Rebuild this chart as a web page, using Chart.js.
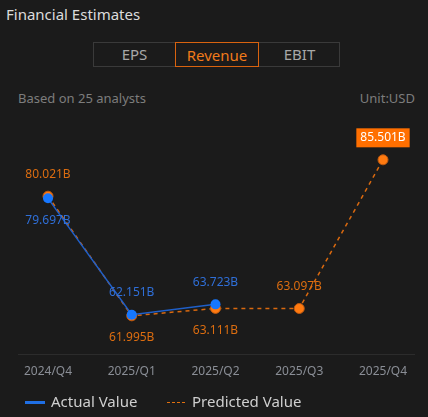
<!DOCTYPE html>
<html>
<head>
<meta charset="utf-8">
<script src="https://cdn.jsdelivr.net/npm/chart.js@4"></script>
<style>
  html, body { margin:0; padding:0; background:#1b1b1b; }
  body { width:428px; height:417px; position:relative; overflow:hidden; font-family:"Noto Sans", sans-serif; }
  .title { position:absolute; left:6px; top:4px; font-size:15px; color:#dcdcdc; }
  .tabs { position:absolute; left:93px; top:42px; width:247px; height:25px; border:1px solid #3a3a3a; box-sizing:border-box; }
  .tab { position:absolute; top:-1px; height:25px; line-height:24px; text-align:center; font-size:15px; color:#a8a8a8; box-sizing:border-box; }
  .tab.on { border:1px solid #d9630f; color:#f07a1a; }
  .sub { position:absolute; top:89px; font-size:13px; color:#7d7d7d; }
  .axisline { position:absolute; left:18px; width:397px; top:354px; height:1px; background:#2c2c2c; }
  .legend { position:absolute; top:391px; left:0; font-size:15px; color:#cfcfcf; }
  .legend span { position:absolute; white-space:nowrap; }
  #wrap { position:absolute; left:0; top:110px; width:428px; height:290px; }
</style>
</head>
<body>
<div class="title">Financial Estimates</div>
<div class="tabs">
  <div class="tab" style="left:-1px;width:83px">EPS</div>
  <div class="tab on" style="left:81px;width:84px">Revenue</div>
  <div class="tab" style="left:164px;width:83px">EBIT</div>
</div>
<div class="sub" style="left:18px">Based on 25 analysts</div>
<div class="sub" style="right:13px">Unit:USD</div>
<div class="axisline"></div>
<div id="wrap"><canvas id="chart"></canvas></div>
<div class="legend">
  <span style="left:25px;top:10px;width:20px;height:3px;background:#1f6fe5"></span>
  <span style="left:51px;top:0">Actual Value</span>
  <span style="left:167px;top:11px;width:18px;height:0;border-top:1px dashed #e0700f"></span>
  <span style="left:192px;top:0">Predicted Value</span>
</div>
<script>
var quarters = ["2024/Q4", "2025/Q1", "2025/Q2", "2025/Q3", "2025/Q4"];
var actual = [79.697, 62.151, 63.723, null, null];
var predicted = [80.021, 61.995, 63.111, 63.097, 85.501];
// where each value label sits relative to its point
var actualPlace = ["below", "above", "above", null, null];
var predictedPlace = ["above", "below", "below", "above", "box"];

var valueLabels = {
  id: "valueLabels",
  afterDatasetsDraw: function(chart) {
    var ctx = chart.ctx;
    ctx.save();
    ctx.font = "12px 'Noto Sans'";
    ctx.textAlign = "center";
    ctx.textBaseline = "middle";
    chart.data.datasets.forEach(function(ds, di) {
      var meta = chart.getDatasetMeta(di);
      var place = di === 0 ? actualPlace : predictedPlace;
      meta.data.forEach(function(pt, i) {
        var v = ds.data[i];
        if (v == null || !place[i]) return;
        var txt = v.toFixed(3) + "B";
        var y = place[i] === "below" ? pt.y + 22 : pt.y - 22;
        if (place[i] === "box") {
          var w = ctx.measureText(txt).width + 8;
          ctx.fillStyle = "#ff6f00";
          ctx.fillRect(pt.x - w / 2, y - 9.5, w, 19);
          ctx.fillStyle = "#ffffff";
        } else {
          ctx.fillStyle = di === 0 ? "#2f6fd8" : "#dc6d10";
        }
        ctx.fillText(txt, pt.x, y);
      });
    });
    ctx.restore();
  }
};

new Chart(document.getElementById("chart"), {
  type: "line",
  data: {
    labels: quarters,
    datasets: [{
      label: "Actual Value",
      data: actual,
      borderColor: "#1f5fc8",
      borderWidth: 1.5,
      backgroundColor: "#1677ff",
      pointBackgroundColor: "#1677ff",
      pointBorderWidth: 0,
      pointRadius: 5,
      spanGaps: false
    }, {
      label: "Predicted Value",
      data: predicted,
      borderColor: "#d9690f",
      borderWidth: 1.5,
      borderDash: [4, 4],
      backgroundColor: "#ff7a10",
      pointBackgroundColor: "#ff7a10",
      pointBorderColor: "#c05a10",
      pointBorderWidth: 1,
      pointRadius: 5
    }]
  },
  options: {
    responsive: true,
    maintainAspectRatio: false,
    animation: false,
    layout: { padding: { left: 48, right: 45, top: 10, bottom: 12 } },
    plugins: { legend: { display: false }, tooltip: { enabled: false } },
    scales: {
      x: {
        offset: false,
        border: { display: false },
        grid: { display: false, drawTicks: false },
        ticks: { color: "#8a8e96", font: { size: 12, family: "'Noto Sans'" }, padding: 9, maxRotation: 0 }
      },
      y: { display: false, min: 56, max: 91.5 }
    }
  },
  plugins: [valueLabels]
});
</script>
</body>
</html>
